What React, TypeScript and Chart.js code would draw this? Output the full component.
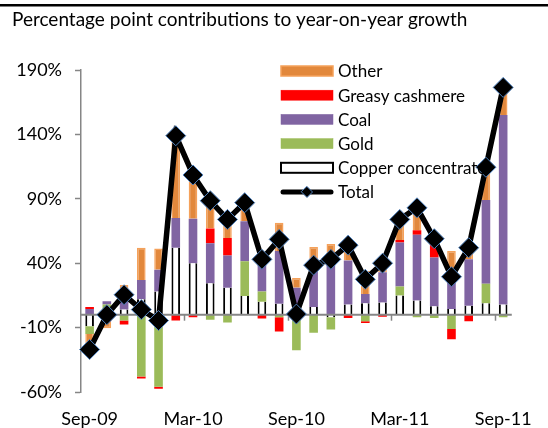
import React, { useEffect, useRef } from 'react';
import { Chart, registerables } from 'chart.js';

Chart.register(...registerables);

const months = [
  'Sep-09', 'Oct-09', 'Nov-09', 'Dec-09', 'Jan-10', 'Feb-10', 'Mar-10', 'Apr-10', 'May-10',
  'Jun-10', 'Jul-10', 'Aug-10', 'Sep-10', 'Oct-10', 'Nov-10', 'Dec-10', 'Jan-11', 'Feb-11',
  'Mar-11', 'Apr-11', 'May-11', 'Jun-11', 'Jul-11', 'Aug-11', 'Sep-11',
];

const copper = [-9, -1, 4, 12, 18, 52, 40, 24.5, 21, 14.5, 10, 8.5, 0, 6, -2, 8, 9, 9.5, 15, 11, 6.5, 4.5, 7, 9, 8];
const gold = [-6, 8, -4.5, -48, -56, 0, 0, -4, -6, 27, 8, -2, -27.5, -14, -9.5, 0, -5, 0, 7, -2, -2.5, -11, 0, 15, -2];
const coal = [4.5, 2.5, 10, 15, 17, 23, 34.5, 31, 25, 31, 29, 41, 21, 37.5, 48, 34, 7, 23.5, 34, 51, 38, 28, 36, 65, 147];
const cashmere = [1.5, -4, -3, -1.5, -1.5, -4.5, -2, 11.5, 13.5, 0, -3, -11, 0, 0, 0, -2.5, -1.5, -1.5, 2, 3.5, 13, -8, -5, 0, 0];
const other = [-17, -5.5, 9, 25, 16.5, 68, 36, 24, 20, 13, 0, 22, 7.5, 9, 7, 14, 18, 8, 16, 19, 4, 17, 12, 26, 22];
const total = [-27, 0, 15.5, 4, -4.5, 139, 108.5, 88.5, 74, 87, 43, 58.5, 0.5, 38.5, 43, 54, 27.5, 40, 74, 83, 59, 29.5, 52, 114.5, 176.5];

const yTicks = [-60, -10, 40, 90, 140, 190];
const labelEvery = 6;
const titleText = 'Percentage point contributions to year-on-year growth';
const legendOrder = ['Other', 'Greasy cashmere', 'Coal', 'Gold', 'Copper concentrate', 'Total'];

const FONT = 'Lato, "Liberation Sans", sans-serif';
const AXIS_GREY = '#868686';

export default function App() {
  const ref = useRef<HTMLCanvasElement>(null);

  useEffect(() => {
    const canvas = ref.current;
    if (!canvas) return;

    const overlay = {
      id: 'overlay',
      beforeDatasetDraw(chart: any, args: any) {
        if (args.meta.type !== 'line') return;
        const { ctx, chartArea, scales } = chart;
        const y0 = scales.y.getPixelForValue(0);
        ctx.save();
        ctx.strokeStyle = AXIS_GREY;
        ctx.lineWidth = 2;
        ctx.beginPath();
        ctx.moveTo(chartArea.left, y0);
        ctx.lineTo(chartArea.right, y0);
        ctx.stroke();
        ctx.lineWidth = 1.5;
        const band = (chartArea.right - chartArea.left) / months.length;
        for (let i = labelEvery; i < months.length; i += labelEvery) {
          const x = Math.round(chartArea.left + band * i) + 0.5;
          ctx.beginPath();
          ctx.moveTo(x, y0);
          ctx.lineTo(x, y0 + 6);
          ctx.stroke();
        }
        ctx.restore();
      },
      afterDraw(chart: any) {
        const { ctx } = chart;
        ctx.save();
        // top rule
        ctx.fillStyle = '#000';
        ctx.fillRect(0, 4, 548, 2.5);
        // legend
        const x0 = 281;
        const boxW = 52;
        const boxH = 10;
        const yStart = 71;
        const step = 24.2;
        ctx.font = `17px ${FONT}`;
        ctx.textBaseline = 'middle';
        ctx.textAlign = 'left';
        legendOrder.forEach((name, i) => {
          const ds = chart.data.datasets.find((d: any) => d.label === name);
          if (!ds) return;
          const cy = yStart + i * step;
          if (ds.type === 'line') {
            ctx.strokeStyle = '#000';
            ctx.lineWidth = 5;
            ctx.lineCap = 'round';
            ctx.beginPath();
            ctx.moveTo(x0 + 2, cy);
            ctx.lineTo(x0 + boxW - 2, cy);
            ctx.stroke();
            const cx = x0 + boxW / 2;
            const r = 5.5;
            ctx.fillStyle = '#000';
            ctx.strokeStyle = '#4F81BD';
            ctx.lineWidth = 1;
            ctx.beginPath();
            ctx.moveTo(cx, cy - r);
            ctx.lineTo(cx + r, cy);
            ctx.lineTo(cx, cy + r);
            ctx.lineTo(cx - r, cy);
            ctx.closePath();
            ctx.fill();
            ctx.stroke();
          } else {
            ctx.fillStyle = ds.backgroundColor;
            ctx.fillRect(x0, cy - boxH / 2, boxW, boxH);
            ctx.strokeStyle = ds.legendBorder;
            ctx.lineWidth = ds.legendBorderWidth;
            ctx.strokeRect(x0, cy - boxH / 2, boxW, boxH);
          }
          ctx.fillStyle = '#000';
          ctx.fillText(name, x0 + boxW + 5, cy + 1);
        });
        ctx.restore();
      },
    };

    const barCommon = {
      type: 'bar' as const,
      stack: 'exports',
      order: 1,
      categoryPercentage: 0.5,
      barPercentage: 1,
    };

    const chart = new Chart(canvas, {
      type: 'bar',
      data: {
        labels: months,
        datasets: [
          {
            type: 'line',
            label: 'Total',
            data: total,
            stack: 'total',
            order: 0,
            borderColor: '#000',
            borderWidth: 5.5,
            backgroundColor: '#000',
            pointStyle: 'rectRot',
            pointRadius: 10,
            pointBackgroundColor: '#000',
            pointBorderColor: '#4F81BD',
            pointBorderWidth: 1,
            tension: 0,
          } as any,
          {
            ...barCommon,
            label: 'Copper concentrate',
            data: copper,
            backgroundColor: '#FFFFFF',
            borderColor: '#000000',
            borderWidth: { left: 2, right: 2, top: 0, bottom: 0 },
            legendBorder: '#000',
            legendBorderWidth: 2,
          } as any,
          {
            ...barCommon,
            label: 'Gold',
            data: gold,
            backgroundColor: '#9BBB59',
            borderColor: '#A9C86B',
            borderWidth: 0,
            legendBorder: '#9BBB59',
            legendBorderWidth: 0.5,
          } as any,
          {
            ...barCommon,
            label: 'Coal',
            data: coal,
            backgroundColor: '#8064A2',
            borderColor: '#8064A2',
            borderWidth: 0,
            legendBorder: '#8064A2',
            legendBorderWidth: 0.5,
          } as any,
          {
            ...barCommon,
            label: 'Greasy cashmere',
            data: cashmere,
            backgroundColor: '#FF0000',
            borderColor: '#FF0000',
            borderWidth: 0,
            legendBorder: '#FF0000',
            legendBorderWidth: 0.5,
          } as any,
          {
            ...barCommon,
            label: 'Other',
            data: other,
            backgroundColor: '#E2883C',
            borderColor: '#F5A15A',
            borderWidth: 1.5,
            legendBorder: '#F5A15A',
            legendBorderWidth: 1.5,
          } as any,
        ],
      },
      options: {
        responsive: false,
        animation: false,
        maintainAspectRatio: false,
        layout: { padding: { left: 12, right: 20, top: 0, bottom: 0 } },
        plugins: {
          legend: { display: false },
          tooltip: { enabled: false },
          title: {
            display: true,
            text: titleText,
            align: 'start',
            color: '#000',
            font: { family: FONT, size: 19, weight: 'normal' },
            padding: { top: 8, bottom: 39.2 },
          },
        },
        scales: {
          x: {
            stacked: true,
            offset: true,
            grid: { display: false, drawTicks: false },
            border: { display: false },
            ticks: {
              autoSkip: false,
              maxRotation: 0,
              minRotation: 0,
              padding: 16,
              color: '#000',
              font: { family: FONT, size: 18 },
              callback: (_v: any, i: number) => (i % labelEvery === 0 ? months[i] : ''),
            },
            afterFit: (scale: any) => {
              scale.height = 36;
            },
          },
          y: {
            stacked: true,
            min: -60,
            max: 190,
            afterBuildTicks: (scale: any) => {
              scale.ticks = yTicks.map((v) => ({ value: v }));
            },
            afterFit: (scale: any) => {
              scale.width = 69;
            },
            grid: {
              drawOnChartArea: false,
              drawTicks: true,
              tickLength: 6,
              tickColor: AXIS_GREY,
              tickWidth: 1.5,
            },
            border: { display: true, color: AXIS_GREY, width: 1.5 },
            ticks: {
              padding: 13,
              color: '#000',
              font: { family: FONT, size: 18 },
              callback: (v: any) => `${v}%`,
            },
          },
        },
      },
      plugins: [overlay],
    } as any);

    return () => chart.destroy();
  }, []);

  return (
    <div style={{ position: 'fixed', left: 0, top: 0, width: 548, height: 428, background: '#fff' }}>
      <canvas ref={ref} width={548} height={428} style={{ display: 'block' }} />
    </div>
  );
}
